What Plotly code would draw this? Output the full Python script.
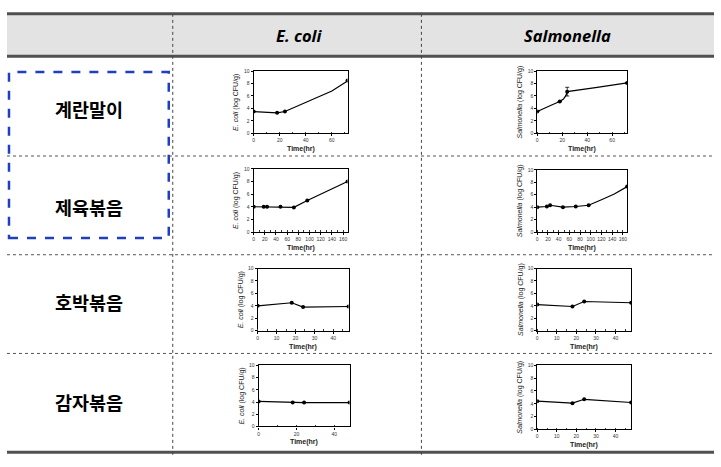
import plotly.graph_objects as go

W, H = 721, 467

# ---- data ----
foods = ["계란말이", "제육볶음", "호박볶음", "감자볶음"]
organisms = ["E. coli", "Salmonella"]

# row 1 : 계란말이
r1_ecoli_t = [0, 18, 24, 72]
r1_ecoli_v = [3.5, 3.3, 3.5, 8.5]
r1_ecoli_fit_t = [0, 18, 24, 36, 48, 60, 72]
r1_ecoli_fit_v = [3.5, 3.3, 3.5, 4.6, 5.6, 6.8, 8.4]
r1_salm_t = [0, 18, 24, 72]
r1_salm_v = [3.5, 5.1, 6.7, 8.1]
r1_salm_err = [0, 0, 0.7, 0]
r1_salm_fit_t = [0, 6, 12, 18, 21, 23, 24, 48, 72]
r1_salm_fit_v = [3.5, 4.1, 4.6, 5.1, 5.5, 6.1, 6.7, 7.4, 8.1]

# row 2 : 제육볶음
r2_ecoli_t = [0, 18, 24, 48, 72, 96, 168]
r2_ecoli_v = [4.0, 4.0, 4.0, 4.0, 3.9, 5.0, 8.0]
r2_ecoli_fit_t = [0, 48, 72, 96, 120, 144, 168]
r2_ecoli_fit_v = [4.0, 4.0, 3.9, 5.0, 6.0, 7.0, 8.0]
r2_salm_t = [0, 18, 24, 48, 72, 96, 168]
r2_salm_v = [4.0, 4.1, 4.3, 4.0, 4.1, 4.3, 7.3]
r2_salm_fit_t = [0, 18, 24, 48, 72, 96, 120, 144, 168]
r2_salm_fit_v = [4.0, 4.1, 4.3, 4.0, 4.1, 4.3, 5.2, 6.1, 7.3]

# row 3 : 호박볶음
r3_ecoli_t = [0, 18, 24, 48]
r3_ecoli_v = [4.0, 4.5, 3.8, 3.9]
r3_salm_t = [0, 18, 24, 48]
r3_salm_v = [4.2, 3.9, 4.7, 4.5]

# row 4 : 감자볶음
r4_ecoli_t = [0, 18, 24, 48]
r4_ecoli_v = [4.1, 3.9, 3.9, 3.9]
r4_salm_t = [0, 18, 24, 48]
r4_salm_v = [4.4, 4.1, 4.7, 4.2]

y_ticks = [0, 2, 4, 6, 8, 10]

# panels: (pixel box l, r, t, b), x range, x ticks, markers, fit line, errors, ylabel
panels = [
    ((253, 347, 69, 132), [0, 72], [0, 20, 40, 60], r1_ecoli_t, r1_ecoli_v, r1_ecoli_fit_t, r1_ecoli_fit_v, None, 0),
    ((537, 627, 69, 132), [0, 72], [0, 20, 40, 60], r1_salm_t, r1_salm_v, r1_salm_fit_t, r1_salm_fit_v, r1_salm_err, 1),
    ((253, 347, 168, 232), [0, 168], list(range(0, 161, 20)), r2_ecoli_t, r2_ecoli_v, r2_ecoli_fit_t, r2_ecoli_fit_v, None, 0),
    ((537, 627, 169, 232), [0, 168], list(range(0, 161, 20)), r2_salm_t, r2_salm_v, r2_salm_fit_t, r2_salm_fit_v, None, 1),
    ((257, 348, 269, 332), [0, 48], [0, 10, 20, 30, 40], r3_ecoli_t, r3_ecoli_v, r3_ecoli_t, r3_ecoli_v, None, 0),
    ((537, 631, 269, 332), [0, 48], [0, 10, 20, 30, 40], r3_salm_t, r3_salm_v, r3_salm_t, r3_salm_v, None, 1),
    ((258, 349, 367, 429), [0, 48], [0, 20, 40], r4_ecoli_t, r4_ecoli_v, r4_ecoli_t, r4_ecoli_v, None, 0),
    ((537, 631, 367, 432), [0, 48], [0, 10, 20, 30, 40], r4_salm_t, r4_salm_v, r4_salm_t, r4_salm_v, None, 1),
]

ylabels = ["<i>E. coli</i> (log CFU/g)", "<i>Salmonella</i> (log CFU/g)"]

fig = go.Figure()
layout = {}
annotations = []
shapes = []

def px(x):
    return x / W

def py(y):
    return 1 - y / H

def label(x, y, text, size, family, color="black", angle=0):
    return dict(x=px(x), y=py(y), xref="paper", yref="paper", text=text,
                textangle=angle, showarrow=False, xanchor="center", yanchor="middle",
                font=dict(size=size, color=color, family=family))

for i, (box, xr, xt, mt, mv, ft, fv, err, org) in enumerate(panels):
    n = i + 1
    xa = "x" if n == 1 else f"x{n}"
    ya = "y" if n == 1 else f"y{n}"
    l, r, t, b = box
    fig.add_trace(go.Scatter(x=ft, y=fv, mode="lines", xaxis=xa, yaxis=ya,
                             line=dict(color="black", width=1.2), showlegend=False,
                             hoverinfo="skip"))
    tr = dict(x=mt, y=mv, mode="markers", xaxis=xa, yaxis=ya,
              marker=dict(color="black", size=4, symbol="circle"), showlegend=False)
    if err is not None:
        tr["error_y"] = dict(type="data", array=err, color="black", thickness=0.8, width=2)
    fig.add_trace(go.Scatter(**tr))
    axcommon = dict(showline=True, linecolor="black", linewidth=1.1, mirror=True,
                    showgrid=False, zeroline=False, ticks="outside", ticklen=2,
                    tickcolor="black", tickangle=0,
                    tickfont=dict(size=5, color="#333", family="Arial"))
    layout["xaxis" if n == 1 else f"xaxis{n}"] = dict(
        domain=[px(l), px(r)], range=xr, tickvals=xt, anchor=ya,
        minor=dict(ticks="inside", ticklen=1.5, tickcolor="#333", dtick=(xt[1]-xt[0])/2),
        **axcommon)
    layout["yaxis" if n == 1 else f"yaxis{n}"] = dict(
        domain=[py(b), py(t)], range=[0, 10], tickvals=y_ticks, anchor=xa, **axcommon)
    annotations.append(label(l - 17, (t + b) / 2, ylabels[org], 7, "Arial", "#222", -90))
    annotations.append(label((l + r) / 2, b + 16, "<b>Time(hr)</b>", 7, "Arial", "#222"))

# ---- table ----
left, right = 6, 714
top, head_b, bottom = 11, 54, 455
col1, col2 = 172, 421
row_lines = [155, 255, 355]

shapes.append(dict(type="rect", xref="paper", yref="paper", x0=px(left), x1=px(right),
                   y0=py(head_b), y1=py(top), fillcolor="#e3e3e3", line=dict(width=0), layer="below"))
for yy in [top, head_b, bottom]:
    shapes.append(dict(type="line", xref="paper", yref="paper", x0=px(left), x1=px(right),
                       y0=py(yy), y1=py(yy), line=dict(color="#505050", width=3)))
for yy in row_lines:
    shapes.append(dict(type="line", xref="paper", yref="paper", x0=px(left), x1=px(right),
                       y0=py(yy), y1=py(yy), line=dict(color="#555", width=1, dash="dot")))
for xx in [col1, col2]:
    shapes.append(dict(type="line", xref="paper", yref="paper", x0=px(xx), x1=px(xx),
                       y0=py(top), y1=py(bottom + 3), line=dict(color="#444", width=1, dash="dot")))
# blue dashed highlight
shapes.append(dict(type="rect", xref="paper", yref="paper", x0=px(8), x1=px(168),
                   y0=py(238), y1=py(70), line=dict(color="#1f3fbf", width=2.5, dash="dash")))

header_x = [298, 567]
for hx, org in zip(header_x, organisms):
    annotations.append(label(hx, 33, f"<b><i>{org}</i></b>", 16.5, "Open Sans"))
row_y = [107, 207, 303, 404]
for ry, food in zip(row_y, foods):
    annotations.append(label(88, ry, f"<b>{food}</b>", 18.5, "Noto Sans CJK KR"))

fig.update_layout(width=W, height=H, margin=dict(l=0, r=0, t=0, b=0),
                  paper_bgcolor="white", plot_bgcolor="white",
                  shapes=shapes, annotations=annotations, **layout)
fig.write_html("out.html", config={"displayModeBar": False})

# remove default page margin so the figure sits at the window's top-left corner
with open("out.html", "r", encoding="utf-8") as f:
    html = f.read()
html = html.replace("<head>", "<head><style>html,body{margin:0;padding:0;overflow:hidden;}</style>", 1)
with open("out.html", "w", encoding="utf-8") as f:
    f.write(html)
